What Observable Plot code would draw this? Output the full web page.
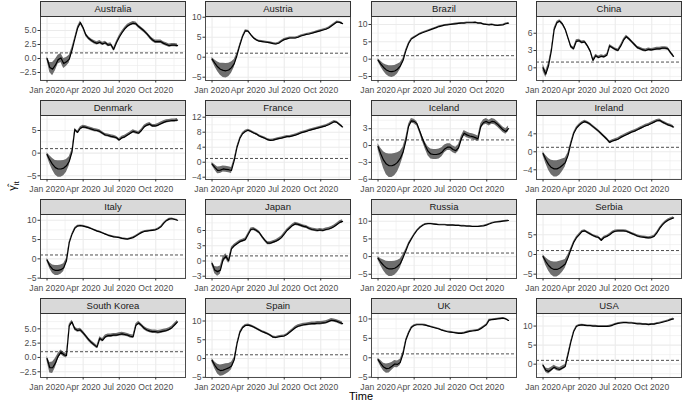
<!DOCTYPE html>
<html><head><meta charset="utf-8">
<script src="https://cdn.jsdelivr.net/npm/d3@7"></script>
<script src="https://cdn.jsdelivr.net/npm/@observablehq/plot@0.6"></script>
<style>
html,body{margin:0;padding:0;background:#fff;}
#chart{position:relative;width:682px;height:402px;font-family:"Liberation Sans",Arial,Helvetica,sans-serif;overflow:hidden;background:#fff;}
.strip{position:absolute;box-sizing:border-box;background:#D9D9D9;border:1px solid #333;font-size:9.5px;color:#1A1A1A;text-align:center;line-height:14px;white-space:nowrap;}
.lbl{position:absolute;color:#000;white-space:nowrap;}
</style></head><body><div id="chart"></div>
<script>
// ---------- data ----------
const dates = [
 "2020-01-01","2020-01-08","2020-01-15","2020-01-22","2020-01-29","2020-02-05","2020-02-12","2020-02-19","2020-02-26","2020-03-04","2020-03-11","2020-03-18",
 "2020-03-25","2020-04-01","2020-04-08","2020-04-15","2020-04-22","2020-04-29","2020-05-06","2020-05-13","2020-05-20","2020-05-27","2020-06-03","2020-06-10",
 "2020-06-17","2020-06-24","2020-07-01","2020-07-08","2020-07-15","2020-07-22","2020-07-29","2020-08-05","2020-08-12","2020-08-19","2020-08-26","2020-09-02",
 "2020-09-09","2020-09-16","2020-09-23","2020-09-30","2020-10-07","2020-10-14","2020-10-21","2020-10-28","2020-11-04","2020-11-11","2020-11-18","2020-11-25"];

const countries = ["Australia","Austria","Brazil","China","Denmark","France","Iceland","Ireland","Italy","Japan","Russia","Serbia","South Korea","Spain","UK","USA"];

const australia = [0.0,-1.6,-1.9,-1.2,-0.2,0.1,-0.9,-0.6,-0.1,1.5,3.5,5.4, 6.4,5.5,4.2,3.6,3.2,2.9,2.7,2.9,2.6,2.8,2.4,2.5, 1.6,2.8,3.8,4.6,5.3,5.8,6.1,6.3,6.2,5.7,5.3,4.9, 4.4,3.8,3.3,3.0,3.0,3.0,2.7,2.5,2.3,2.4,2.4,2.3];
const austria = [-0.5,-1.5,-2.4,-3.0,-3.3,-3.4,-3.2,-2.6,-1.6,0.5,3.0,5.2, 6.6,6.5,5.6,4.8,4.3,4.0,3.9,3.8,3.7,3.6,3.4,3.3, 3.5,4.0,4.4,4.6,4.8,4.8,4.8,5.0,5.3,5.5,5.7,5.8, 6.0,6.2,6.4,6.6,6.8,7.0,7.3,7.8,8.3,8.8,8.7,8.4];
const brazil = [-0.3,-1.4,-2.4,-3.1,-3.5,-3.6,-3.4,-2.9,-2.0,-0.4,2.4,4.5, 5.8,6.3,6.8,7.3,7.6,7.9,8.2,8.5,8.8,9.1,9.4,9.6, 9.8,9.9,10.0,10.1,10.2,10.3,10.4,10.4,10.5,10.5,10.5,10.6, 10.4,10.4,10.1,10.0,9.9,10.0,9.8,9.7,9.8,9.9,10.2,10.4];
const china = [0.0,-1.1,0.4,3.0,6.6,7.8,8.1,7.6,6.7,5.2,3.7,3.3, 4.6,4.7,4.4,4.5,3.8,2.9,1.3,2.1,1.8,2.0,1.9,2.2, 3.8,3.5,3.2,3.0,3.8,4.8,5.4,5.0,4.5,4.0,3.5,3.3, 3.1,3.0,3.2,3.1,3.2,3.3,3.3,3.4,3.4,3.3,2.6,2.0];
const denmark = [-0.3,-1.5,-2.5,-3.2,-3.5,-3.5,-3.3,-2.8,-1.8,0.3,5.2,4.6, 5.5,5.8,5.7,5.5,5.3,5.1,5.0,4.8,4.4,4.0,3.9,3.7, 3.6,3.4,2.9,3.4,3.6,4.0,4.4,4.8,4.6,4.4,5.0,5.8, 6.2,6.4,6.0,6.0,6.2,6.5,6.8,7.0,7.1,7.2,7.2,7.3];
const france = [-0.5,-1.4,-2.2,-2.1,-1.8,-1.9,-2.0,-2.2,0.5,4.0,6.3,7.6, 8.2,8.5,8.2,7.8,7.5,7.0,6.7,6.4,6.0,5.8,5.9,6.1, 6.3,6.4,6.6,6.8,6.8,7.0,7.2,7.5,7.8,8.0,8.2,8.5, 8.7,8.9,9.1,9.3,9.5,9.7,10.0,10.4,10.8,10.6,10.0,9.4];
const iceland = [-0.2,-1.5,-2.6,-3.3,-3.6,-3.6,-3.4,-3.0,-2.3,-1.2,0.8,3.4, 4.4,4.3,3.9,2.6,1.2,0.0,-1.0,-1.5,-1.6,-1.6,-1.5,-1.2, -0.6,-0.3,-0.3,-0.7,-0.9,-0.4,1.2,2.2,1.9,1.7,1.6,1.4, 1.2,3.4,4.1,4.3,4.0,4.3,4.2,3.8,3.3,2.8,2.5,3.0];
const ireland = [-0.4,-1.7,-2.8,-3.5,-3.8,-3.8,-3.5,-3.0,-2.4,-0.8,1.8,4.0, 5.2,5.9,6.4,6.7,6.5,6.1,5.6,5.1,4.6,4.0,3.4,2.8, 2.1,2.4,2.6,2.8,3.2,3.5,3.8,4.1,4.4,4.6,4.9,5.2, 5.5,5.8,6.0,6.3,6.6,6.9,7.0,6.6,6.3,6.0,5.8,5.5];
const italy = [-0.3,-1.8,-2.7,-3.0,-3.0,-2.8,-2.3,-0.5,4.2,6.4,7.9,8.5, 8.6,8.5,8.3,8.1,7.8,7.5,7.2,7.0,6.7,6.4,6.1,5.9, 5.7,5.6,5.5,5.3,5.2,5.1,5.3,5.5,5.9,6.4,6.8,7.1, 7.2,7.3,7.4,7.5,7.8,8.3,9.2,9.9,10.3,10.4,10.2,10.0];
const japan = [-0.5,-1.8,-2.1,-1.8,0.3,0.9,0.0,2.4,3.0,3.4,3.8,4.0, 4.2,5.2,6.2,6.3,6.0,5.6,4.8,4.1,3.5,3.5,3.7,3.9, 4.2,4.6,5.3,6.0,6.5,7.0,7.3,7.2,7.0,6.8,6.7,6.4, 6.2,6.1,6.0,6.1,6.0,6.2,6.3,6.5,6.8,7.2,7.6,7.8];
const russia = [-0.5,-1.6,-2.5,-3.2,-3.5,-3.5,-3.3,-2.8,-2.0,-0.3,1.6,3.6, 5.0,6.3,7.4,8.2,8.8,9.2,9.3,9.3,9.2,9.1,9.0,9.0, 9.0,8.9,8.9,8.9,8.8,8.8,8.7,8.7,8.6,8.6,8.5,8.5, 8.5,8.6,8.7,8.9,9.2,9.5,9.7,9.8,9.9,10.0,10.1,10.2];
const serbia = [-0.5,-1.8,-2.8,-3.5,-3.8,-3.8,-3.5,-3.0,-2.4,-0.8,1.2,3.0, 4.2,5.0,5.8,6.0,5.6,5.2,4.8,4.5,4.3,3.6,4.3,4.6, 5.0,5.6,5.9,6.0,6.0,6.0,5.9,5.6,5.3,5.0,4.7,4.5, 4.4,4.3,4.2,4.3,4.6,5.5,6.6,7.5,8.2,8.7,9.0,9.3];
const southKorea = [-0.2,-1.8,-1.8,-1.0,0.2,0.9,0.5,0.3,5.5,6.2,5.0,4.7, 4.8,4.3,3.7,3.1,2.6,2.2,1.8,3.3,3.0,3.6,3.8,3.8, 3.9,3.9,4.0,4.1,4.0,3.9,3.7,3.6,5.6,6.0,5.6,5.1, 4.8,4.6,4.5,4.5,4.4,4.5,4.6,4.7,4.9,5.2,5.7,6.2];
const spain = [-0.5,-1.8,-2.8,-3.2,-3.1,-2.8,-2.5,-2.0,-0.3,4.0,6.9,8.2, 8.8,8.9,8.7,8.4,8.0,7.6,7.2,6.9,6.6,6.2,5.7,5.6, 5.8,5.9,6.0,6.4,7.0,7.6,8.2,8.6,8.8,9.0,9.1,9.2, 9.3,9.3,9.4,9.4,9.5,9.6,9.9,10.2,10.1,9.9,9.6,9.3];
const uk = [-0.5,-1.5,-2.4,-2.8,-2.7,-2.2,-1.6,-1.7,-1.2,1.0,4.5,6.4, 7.8,8.3,8.5,8.5,8.5,8.4,8.2,8.0,7.8,7.6,7.4,7.1, 6.9,6.7,6.6,6.5,6.4,6.3,6.3,6.4,6.6,6.8,6.9,7.0, 7.1,7.5,8.0,8.5,9.7,9.8,9.9,10.0,10.1,10.2,10.0,9.6];
const usa = [-0.3,-1.6,-1.9,-1.4,-0.8,-1.2,-1.4,-1.0,-0.6,2.5,5.8,8.5, 9.9,10.2,10.3,10.2,10.1,10.1,10.0,10.0,9.9,9.9,9.9,9.9, 10.0,10.2,10.5,10.7,10.8,10.9,10.9,10.8,10.8,10.7,10.6,10.6, 10.5,10.5,10.4,10.5,10.5,10.7,10.8,11.0,11.2,11.4,11.7,11.9];

// half-widths of the confidence band
const australiaBand = [0.3,0.9,1.2,1.0,0.8,0.8,0.9,0.8,0.7,0.5,0.3,0.3, 0.3,0.3,0.3,0.3,0.3,0.3,0.3,0.3,0.3,0.3,0.3,0.3, 0.3,0.3,0.3,0.3,0.3,0.3,0.3,0.3,0.3,0.3,0.3,0.3, 0.3,0.3,0.3,0.3,0.3,0.3,0.3,0.3,0.3,0.3,0.3,0.3];
const austriaBand = [0.4,0.8,1.2,1.5,1.8,1.8,1.7,1.4,1.0,0.5,0.3,0.25, 0.25,0.25,0.25,0.25,0.25,0.25,0.25,0.25,0.25,0.25,0.25,0.25, 0.25,0.25,0.25,0.25,0.25,0.25,0.25,0.25,0.25,0.25,0.25,0.25, 0.25,0.25,0.25,0.25,0.25,0.25,0.25,0.25,0.25,0.25,0.25,0.25];
const brazilBand = [0.4,0.8,1.1,1.4,1.6,1.7,1.6,1.4,1.0,0.6,0.4,0.3, 0.2,0.2,0.2,0.2,0.2,0.2,0.2,0.2,0.2,0.2,0.2,0.2, 0.2,0.2,0.2,0.2,0.2,0.2,0.2,0.2,0.2,0.2,0.2,0.2, 0.2,0.2,0.2,0.2,0.2,0.2,0.2,0.2,0.2,0.2,0.2,0.2];
const chinaBand = [0.6,0.6,0.5,0.3,0.3,0.25,0.25,0.25,0.25,0.25,0.25,0.25, 0.25,0.25,0.25,0.25,0.25,0.25,0.25,0.25,0.25,0.25,0.25,0.25, 0.25,0.25,0.25,0.25,0.25,0.25,0.25,0.25,0.25,0.25,0.25,0.25, 0.25,0.25,0.25,0.25,0.25,0.25,0.25,0.25,0.25,0.25,0.25,0.25];
const denmarkBand = [0.4,0.9,1.3,1.6,1.8,1.8,1.7,1.4,1.0,0.5,0.3,0.3, 0.35,0.35,0.35,0.35,0.35,0.35,0.35,0.35,0.35,0.35,0.35,0.35, 0.35,0.35,0.35,0.35,0.35,0.35,0.35,0.35,0.35,0.35,0.35,0.35, 0.35,0.35,0.35,0.35,0.35,0.35,0.35,0.35,0.35,0.35,0.35,0.35];
const franceBand = [0.4,0.7,0.9,0.9,0.8,0.8,0.8,0.8,0.5,0.3,0.3,0.3, 0.3,0.3,0.3,0.3,0.3,0.3,0.3,0.3,0.3,0.3,0.3,0.3, 0.3,0.3,0.3,0.3,0.3,0.3,0.3,0.3,0.3,0.3,0.3,0.3, 0.3,0.3,0.3,0.3,0.3,0.3,0.3,0.3,0.3,0.3,0.3,0.3];
const icelandBand = [0.5,1.0,1.5,1.9,2.1,2.1,2.0,1.7,1.3,0.9,0.6,0.4, 0.4,0.4,0.4,0.4,0.5,0.6,0.8,0.9,0.9,0.9,0.9,0.8, 0.7,0.6,0.6,0.6,0.6,0.6,0.5,0.5,0.5,0.5,0.5,0.5, 0.5,0.5,0.5,0.5,0.5,0.5,0.5,0.5,0.5,0.5,0.5,0.5];
const irelandBand = [0.4,0.9,1.3,1.6,1.8,1.8,1.7,1.4,1.0,0.6,0.4,0.3, 0.3,0.3,0.3,0.3,0.3,0.3,0.3,0.3,0.3,0.3,0.3,0.3, 0.3,0.3,0.3,0.3,0.3,0.3,0.3,0.3,0.3,0.3,0.3,0.3, 0.3,0.3,0.3,0.3,0.3,0.3,0.3,0.3,0.3,0.3,0.3,0.3];
const italyBand = [0.4,0.8,1.1,1.3,1.3,1.2,1.0,0.6,0.3,0.2,0.2,0.2, 0.2,0.2,0.2,0.2,0.2,0.2,0.2,0.2,0.2,0.2,0.2,0.2, 0.2,0.2,0.2,0.2,0.2,0.2,0.2,0.2,0.2,0.2,0.2,0.2, 0.2,0.2,0.2,0.2,0.2,0.2,0.2,0.2,0.2,0.2,0.2,0.2];
const japanBand = [0.4,0.7,0.9,0.8,0.6,0.5,0.5,0.3,0.3,0.3,0.3,0.3, 0.3,0.3,0.3,0.3,0.3,0.3,0.3,0.3,0.3,0.3,0.3,0.3, 0.3,0.3,0.3,0.3,0.3,0.3,0.3,0.3,0.3,0.3,0.3,0.3, 0.3,0.3,0.3,0.3,0.3,0.3,0.3,0.3,0.3,0.3,0.3,0.3];
const russiaBand = [0.5,1.0,1.5,1.9,2.1,2.1,2.0,1.7,1.3,0.8,0.5,0.3, 0.2,0.15,0.15,0.15,0.15,0.15,0.15,0.15,0.15,0.15,0.15,0.15, 0.15,0.15,0.15,0.15,0.15,0.15,0.15,0.15,0.15,0.15,0.15,0.15, 0.15,0.15,0.15,0.15,0.15,0.15,0.15,0.15,0.15,0.15,0.15,0.15];
const serbiaBand = [0.4,1.0,1.4,1.7,1.9,1.9,1.8,1.5,1.1,0.7,0.4,0.3, 0.3,0.3,0.3,0.3,0.3,0.3,0.3,0.3,0.3,0.3,0.3,0.3, 0.3,0.3,0.3,0.3,0.3,0.3,0.3,0.3,0.3,0.3,0.3,0.3, 0.3,0.3,0.3,0.3,0.3,0.3,0.3,0.3,0.3,0.3,0.3,0.3];
const southKoreaBand = [0.4,0.9,1.0,0.8,0.5,0.4,0.4,0.4,0.3,0.3,0.3,0.3, 0.3,0.3,0.3,0.3,0.3,0.3,0.3,0.3,0.3,0.3,0.3,0.3, 0.3,0.3,0.3,0.3,0.3,0.3,0.3,0.3,0.3,0.3,0.3,0.3, 0.3,0.3,0.3,0.3,0.3,0.3,0.3,0.3,0.3,0.3,0.3,0.3];
const spainBand = [0.5,0.9,1.3,1.5,1.5,1.4,1.2,1.0,0.6,0.3,0.3,0.3, 0.3,0.3,0.3,0.3,0.3,0.3,0.3,0.3,0.3,0.3,0.3,0.3, 0.3,0.3,0.3,0.3,0.35,0.35,0.4,0.4,0.4,0.4,0.4,0.4, 0.45,0.45,0.45,0.45,0.45,0.45,0.45,0.45,0.45,0.45,0.45,0.45];
const ukBand = [0.4,0.8,1.0,1.2,1.2,1.0,0.9,0.9,0.8,0.5,0.3,0.25, 0.2,0.2,0.2,0.2,0.2,0.2,0.2,0.2,0.2,0.2,0.2,0.2, 0.2,0.2,0.2,0.2,0.2,0.2,0.2,0.2,0.2,0.2,0.2,0.2, 0.2,0.2,0.2,0.2,0.2,0.2,0.2,0.2,0.2,0.2,0.2,0.2];
const usaBand = [0.4,0.6,0.7,0.6,0.5,0.5,0.5,0.5,0.5,0.4,0.3,0.2, 0.2,0.2,0.2,0.2,0.2,0.2,0.2,0.2,0.2,0.2,0.2,0.2, 0.2,0.2,0.2,0.2,0.2,0.2,0.2,0.2,0.2,0.2,0.2,0.2, 0.2,0.2,0.2,0.2,0.2,0.2,0.2,0.2,0.2,0.2,0.2,0.2];

const seriesValues = [australia,austria,brazil,china,denmark,france,iceland,ireland,italy,japan,russia,serbia,southKorea,spain,uk,usa];
const seriesBands = [australiaBand,austriaBand,brazilBand,chinaBand,denmarkBand,franceBand,icelandBand,irelandBand,italyBand,japanBand,russiaBand,serbiaBand,southKoreaBand,spainBand,ukBand,usaBand];

// y-axis limits and tick values for each panel (free y scales)
const yDomains = [[-3.93,7.5],[-5.83,10.18],[-6.15,12.3],[-2.2,8.9],[-5.82,8.31],[-4.61,12.45],[-6.05,5.35],[-6.16,8.07],
                  [-5.1,11.5],[-3.45,9.15],[-6.2,11.9],[-6.1,10.15],[-3.5,7.67],[-5.05,12.0],[-5.08,11.4],[-3.5,13.3]];
const yTicks = [[-2.5,0,2.5,5],[-5,0,5,10],[-5,0,5,10],[0,3,6],[-5,0,5],[-4,0,4,8,12],[-6,-3,0,3],[-4,0,4],
                [-5,0,5,10],[-3,0,3,6],[-5,0,5,10],[-5,0,5],[-2.5,0,2.5,5],[-5,0,5,10],[-5,0,5,10],[0,5,10]];
const xTickDates = ["2020-01-01","2020-04-01","2020-07-01","2020-10-01"];
const xMinorDates = ["2020-02-15T12:00Z","2020-05-16T12:00Z","2020-08-16T00:00Z","2020-11-16T00:00Z"];
const xDomainDates = ["2019-12-15T12:00Z","2020-12-15T00:00Z"];
const refLine = 1;

// ---------- layout ----------
const colLeft = [40, 205, 371, 536];
const stripTop = [1, 100, 199, 298];
const W = 145, H = 64, SH = 15;
const ML = 36, MR = 2, MT = 1, MB = 22;
const FONT = '"Liberation Sans", Arial, Helvetica, sans-serif';

const chart = document.getElementById("chart");
const xTicks = xTickDates.map(d => new Date(d));
const xMinor = xMinorDates.map(d => new Date(d));
const xDomain = xDomainDates.map(d => new Date(d));
const fmtX = d3.utcFormat("%b %Y");

countries.forEach((name, i) => {
  const col = i % 4, row = Math.floor(i / 4);
  const L = colLeft[col], S = stripTop[row], T = S + SH;
  const vals = seriesValues[i], band = seriesBands[i];
  const rows = dates.map((d, j) => ({date: new Date(d), v: vals[j], lo: vals[j] - band[j], hi: vals[j] + band[j]}));
  const ticks = yTicks[i];
  const dom = yDomains[i];
  const fmtY = ticks.some(t => !Number.isInteger(t)) ? d3.format(".1f") : d3.format("d");
  const step = ticks[1] - ticks[0];
  const yMinor = [ticks[0] - step / 2, ...ticks.map(t => t + step / 2)].filter(t => t >= dom[0] && t <= dom[1]);

  const svg = Plot.plot({
    width: ML + W + MR, height: MT + H + MB,
    marginLeft: ML, marginRight: MR, marginTop: MT, marginBottom: MB,
    style: {fontFamily: FONT, fontSize: "8.6px", background: "transparent", overflow: "visible"},
    x: {type: "utc", domain: xDomain, label: null},
    y: {domain: dom, label: null},
    marks: [
      Plot.gridX(xMinor, {stroke: "#EBEBEB", strokeOpacity: 1, strokeWidth: 0.6}),
      Plot.gridY(yMinor, {stroke: "#EBEBEB", strokeOpacity: 1, strokeWidth: 0.6}),
      Plot.gridX(xTicks, {stroke: "#EBEBEB", strokeOpacity: 1, strokeWidth: 1.1}),
      Plot.gridY(ticks, {stroke: "#EBEBEB", strokeOpacity: 1, strokeWidth: 1.1}),
      Plot.areaY(rows, {x: "date", y1: "lo", y2: "hi", fill: "#6E6E6E"}),
      Plot.ruleY([refLine], {stroke: "#222", strokeWidth: 0.8, strokeDasharray: "3,2"}),
      Plot.lineY(rows, {x: "date", y: "v", stroke: "#000", strokeWidth: 1.2}),
      Plot.frame({stroke: "#4D4D4D", strokeWidth: 1}),
      Plot.axisX(xTicks, {tickFormat: fmtX, tickSize: 2.5, tickPadding: 3.5, stroke: "#333", fill: "#4D4D4D", label: null}),
      Plot.axisY(ticks, {tickFormat: fmtY, tickSize: 2.5, tickPadding: 1.5, stroke: "#333", fill: "#4D4D4D", label: null})
    ]
  });
  svg.style.position = "absolute";
  svg.style.left = (L - ML) + "px";
  svg.style.top = (T - MT) + "px";
  chart.appendChild(svg);

  const strip = document.createElement("div");
  strip.className = "strip";
  strip.style.left = L + "px";
  strip.style.top = S + "px";
  strip.style.width = (W + 1) + "px";
  strip.style.height = (SH + 1) + "px";
  strip.textContent = name;
  chart.appendChild(strip);
});

// axis titles
const ysvg = d3.create("svg").attr("width", 24).attr("height", 60)
  .style("position", "absolute").style("left", "0px").style("top", "156px");
const yt = ysvg.append("text").attr("transform", "translate(16,30) rotate(-90)")
  .attr("text-anchor", "middle").attr("font-family", FONT).attr("font-size", 11).attr("fill", "#000");
yt.append("tspan").text("γ\u0302");
yt.append("tspan").attr("font-size", 8).attr("dy", 3).text("it");
chart.appendChild(ysvg.node());

const xt = document.createElement("div");
xt.className = "lbl";
xt.style.fontSize = "11px";
xt.style.lineHeight = "11px";
xt.style.left = "340px";
xt.style.width = "42px";
xt.style.textAlign = "center";
xt.style.top = "391px";
xt.textContent = "Time";
chart.appendChild(xt);
</script></body></html>
